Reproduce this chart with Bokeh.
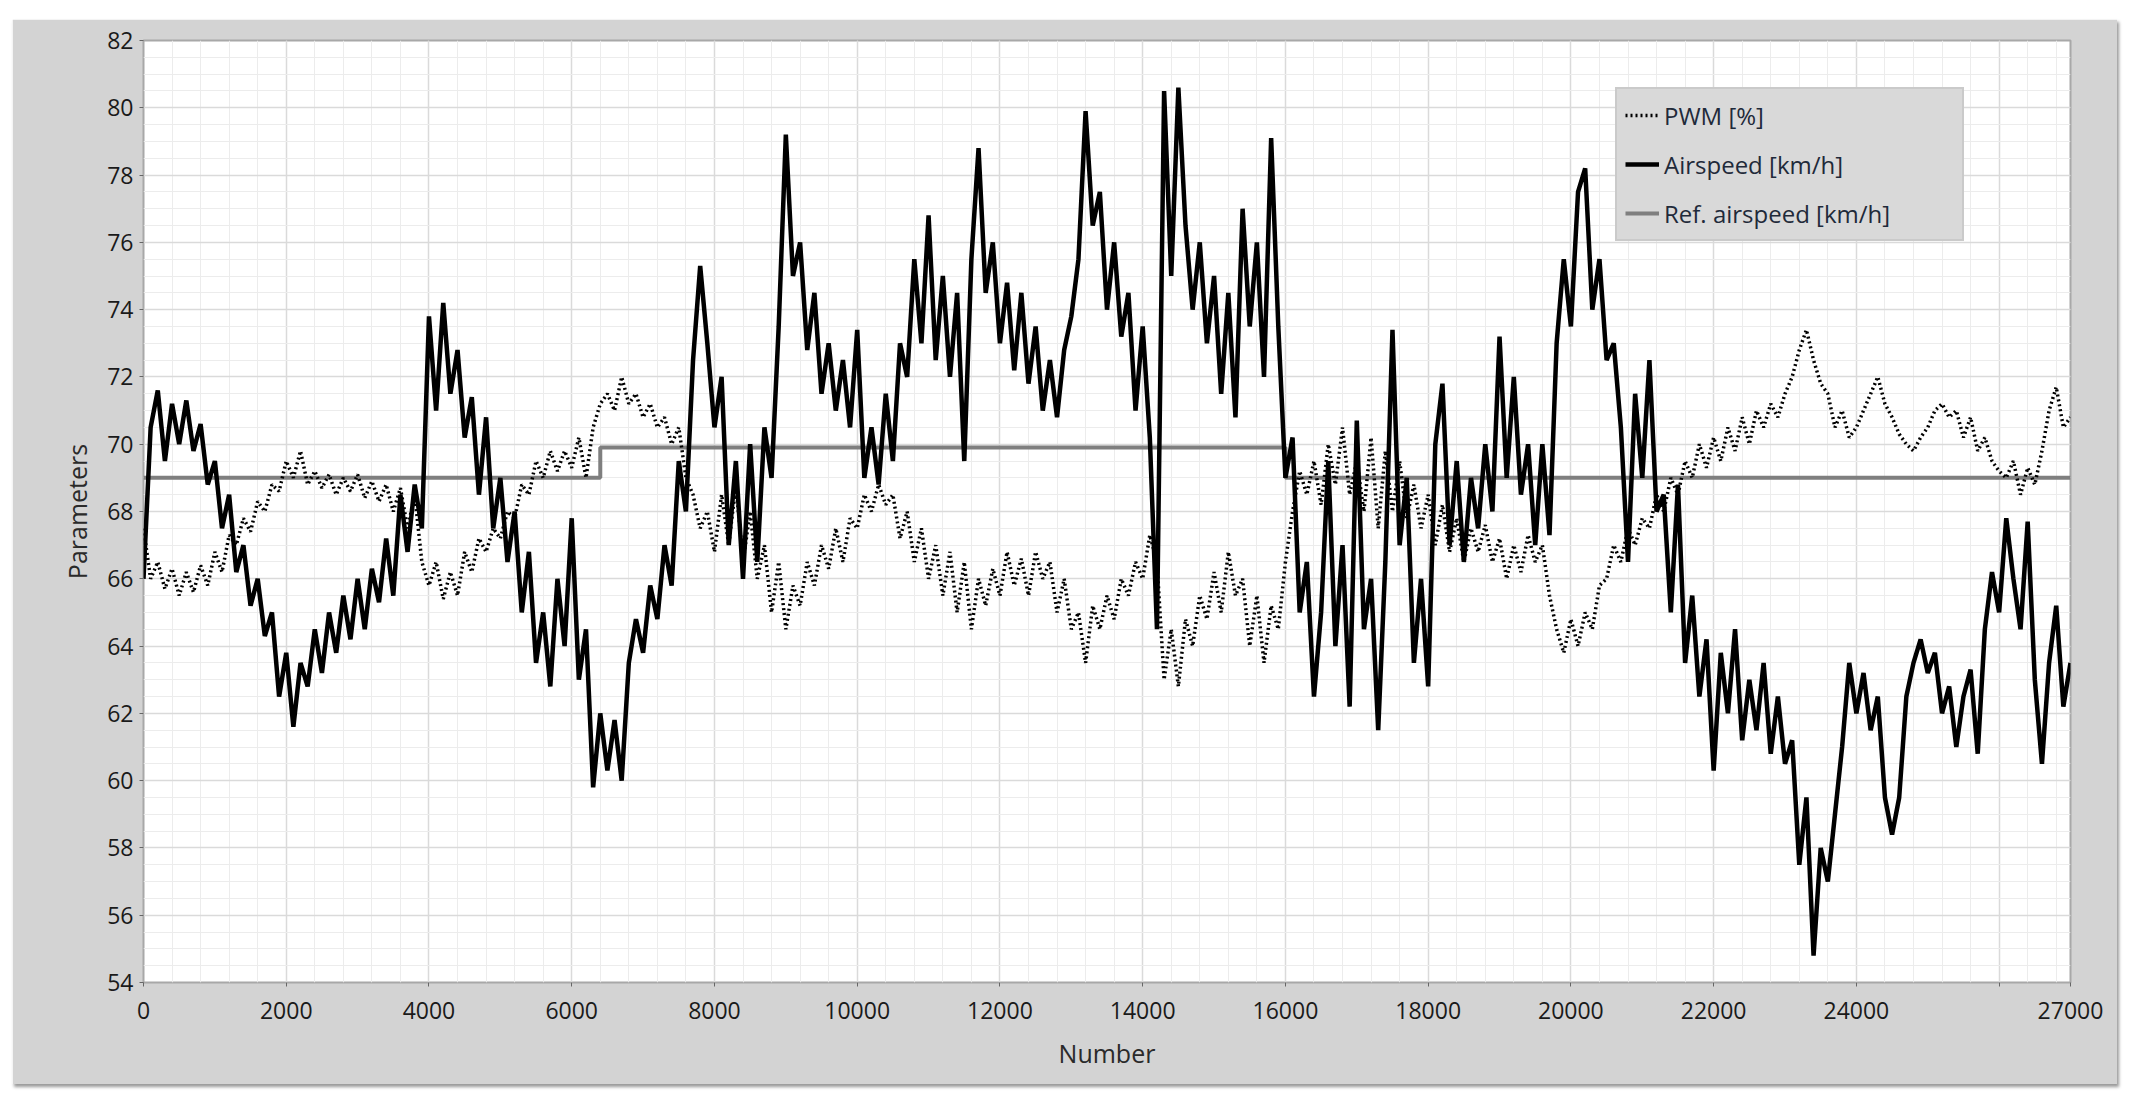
from bokeh.plotting import figure
from bokeh.models import FixedTicker, Legend, LegendItem
from bokeh.embed import file_html
from bokeh.resources import INLINE

# ---------------- data ----------------
sample_number = list(range(0, 27001, 100))

airspeed = [
    66.0, 70.5, 71.6, 69.5, 71.2, 70.0, 71.3, 69.8, 70.6, 68.8,
    69.5, 67.5, 68.5, 66.2, 67.0, 65.2, 66.0, 64.3, 65.0, 62.5,
    63.8, 61.6, 63.5, 62.8, 64.5, 63.2, 65.0, 63.8, 65.5, 64.2,
    66.0, 64.5, 66.3, 65.3, 67.2, 65.5, 68.5, 66.8, 68.8, 67.5,
    73.8, 71.0, 74.2, 71.5, 72.8, 70.2, 71.4, 68.5, 70.8, 67.5,
    69.0, 66.5, 68.0, 65.0, 66.8, 63.5, 65.0, 62.8, 66.0, 64.0,
    67.8, 63.0, 64.5, 59.8, 62.0, 60.3, 61.8, 60.0, 63.5, 64.8,
    63.8, 65.8, 64.8, 67.0, 65.8, 69.5, 68.0, 72.5, 75.3, 73.0,
    70.5, 72.0, 67.0, 69.5, 66.0, 70.0, 66.5, 70.5, 69.0, 73.5,
    79.2, 75.0, 76.0, 72.8, 74.5, 71.5, 73.0, 71.0, 72.5, 70.5,
    73.4, 69.0, 70.5, 68.8, 71.5, 69.5, 73.0, 72.0, 75.5, 73.0,
    76.8, 72.5, 75.0, 72.0, 74.5, 69.5, 75.5, 78.8, 74.5, 76.0,
    73.0, 74.8, 72.2, 74.5, 71.8, 73.5, 71.0, 72.5, 70.8, 72.8,
    73.8, 75.5, 79.9, 76.5, 77.5, 74.0, 76.0, 73.2, 74.5, 71.0,
    73.5, 70.2, 64.5, 80.5, 75.0, 80.6, 76.5, 74.0, 76.0, 73.0,
    75.0, 71.5, 74.5, 70.8, 77.0, 73.5, 76.0, 72.0, 79.1, 73.5,
    69.0, 70.2, 65.0, 66.5, 62.5, 65.0, 69.5, 64.0, 67.0, 62.2,
    70.7, 64.5, 66.0, 61.5, 66.5, 73.4, 67.0, 69.0, 63.5, 66.0,
    62.8, 70.0, 71.8, 67.0, 69.5, 66.5, 69.0, 67.5, 70.0, 68.0,
    73.2, 69.0, 72.0, 68.5, 70.0, 67.0, 70.0, 67.3, 73.0, 75.5,
    73.5, 77.5, 78.2, 74.0, 75.5, 72.5, 73.0, 70.5, 66.5, 71.5,
    69.0, 72.5, 68.0, 68.5, 65.0, 68.8, 63.5, 65.5, 62.5, 64.2,
    60.3, 63.8, 62.0, 64.5, 61.2, 63.0, 61.5, 63.5, 60.8, 62.5,
    60.5, 61.2, 57.5, 59.5, 54.8, 58.0, 57.0, 59.0, 61.0, 63.5,
    62.0, 63.2, 61.5, 62.5, 59.5, 58.4, 59.5, 62.5, 63.5, 64.2,
    63.2, 63.8, 62.0, 62.8, 61.0, 62.5, 63.3, 60.8, 64.5, 66.2,
    65.0, 67.8, 66.0, 64.5, 67.7, 63.0, 60.5, 63.5, 65.2, 62.2,
    63.5,
]

pwm = [
    67.5, 66.0, 66.5, 65.7, 66.3, 65.5, 66.2, 65.6, 66.4, 65.8,
    66.8, 66.2, 67.3, 67.0, 67.8, 67.4, 68.3, 68.0, 68.8, 68.6,
    69.5, 69.0, 69.8, 68.8, 69.2, 68.7, 69.1, 68.5, 69.0, 68.6,
    69.1, 68.4, 68.9, 68.3, 68.8, 68.0, 68.7, 67.5, 68.5, 66.5,
    65.8, 66.5, 65.4, 66.2, 65.5, 66.8, 66.2, 67.2, 66.8, 67.5,
    67.2, 68.0, 67.8, 68.8, 68.5, 69.5, 69.0, 69.8, 69.2, 69.8,
    69.3, 70.2, 69.0, 70.5, 71.2, 71.5, 71.0, 72.0, 71.2, 71.5,
    70.8, 71.2, 70.5, 70.8, 70.0, 70.5, 69.0, 68.5, 67.5, 68.0,
    66.8, 68.5, 67.0, 68.8, 66.5, 68.0, 66.0, 67.0, 65.0, 66.5,
    64.5, 65.8, 65.2, 66.5, 65.8, 67.0, 66.3, 67.5, 66.5, 67.8,
    67.5, 68.5, 68.0, 68.8, 68.2, 68.5, 67.2, 68.0, 66.5, 67.5,
    66.0, 67.0, 65.5, 66.8, 65.0, 66.5, 64.5, 66.0, 65.2, 66.3,
    65.5, 66.8, 65.8, 66.6, 65.5, 66.8, 66.0, 66.5, 65.0, 66.0,
    64.5, 65.0, 63.5, 65.2, 64.5, 65.5, 64.8, 66.0, 65.5, 66.5,
    66.0, 67.3, 66.5, 63.0, 64.5, 62.8, 64.8, 64.0, 65.5, 64.8,
    66.2, 65.0, 66.8, 65.5, 66.0, 64.0, 65.5, 63.5, 65.2, 64.5,
    66.5, 68.0, 69.2, 68.5, 69.5, 68.2, 70.0, 68.8, 70.5, 68.5,
    69.5, 68.0, 70.2, 67.5, 69.8, 68.0, 69.5, 67.8, 68.8, 67.5,
    68.5, 67.0, 68.2, 66.8, 67.8, 66.5, 67.5, 66.8, 67.6, 66.5,
    67.2, 66.0, 67.0, 66.2, 67.3, 66.5, 67.0, 65.5, 64.5, 63.8,
    64.8, 64.0, 65.0, 64.5, 65.8, 66.0, 67.0, 66.5, 67.5, 67.0,
    67.8, 67.5, 68.5, 68.0, 69.0, 68.5, 69.5, 69.0, 70.0, 69.3,
    70.2, 69.5, 70.5, 69.8, 70.8, 70.0, 71.0, 70.5, 71.2, 70.8,
    71.5, 72.0, 72.8, 73.4, 72.5, 71.8, 71.5, 70.5, 71.0, 70.2,
    70.5, 71.0, 71.5, 72.0, 71.2, 70.8, 70.3, 70.0, 69.8, 70.2,
    70.5, 71.0, 71.2, 70.8, 71.0, 70.2, 70.8, 69.8, 70.2, 69.5,
    69.2, 69.0, 69.5, 68.5, 69.3, 68.8, 69.8, 71.0, 71.7, 70.5,
    70.8,
]

ref_sample = [0, 6400, 16000, 27000]
ref_airspeed = [69.0, 69.9, 69.0, 69.0]

series_labels = ["PWM [%]", "Airspeed [km/h]", "Ref. airspeed [km/h]"]

x_major_ticks = [0, 2000, 4000, 6000, 8000, 10000, 12000, 14000,
                 16000, 18000, 20000, 22000, 24000, 26000, 27000]
x_label_overrides = {26000: ""}
y_major_ticks = [54, 56, 58, 60, 62, 64, 66, 68, 70, 72, 74, 76, 78, 80, 82]

# ---------------- figure ----------------
FONT = "Open Sans"

p = figure(
    width=2105, height=1065,
    x_range=(0, 27000), y_range=(54, 82),
    output_backend="svg", toolbar_location=None,
    min_border_left=131, min_border_right=47,
    min_border_top=21, min_border_bottom=102,
    background_fill_color="white",
    border_fill_color="#d3d3d3",
    outline_line_color="#a8a8a8",
    outline_line_width=2,
)
p.margin = (19, 0, 0, 12)
p.styles = {"box-shadow": "2px 3px 3px #9a9a9a"}

x_minor = [400 * i for i in range(68)]
y_minor = [54 + 0.5 * i for i in range(57)]
p.xaxis.ticker = FixedTicker(ticks=x_major_ticks, minor_ticks=x_minor)
p.yaxis.ticker = FixedTicker(ticks=y_major_ticks, minor_ticks=y_minor)
p.xaxis.major_label_overrides = x_label_overrides

for g in (p.xgrid, p.ygrid):
    g.grid_line_color = "#dadada"
    g.grid_line_width = 1.5
    g.minor_grid_line_color = "#ececec"
    g.minor_grid_line_width = 1

for ax in (p.xaxis, p.yaxis):
    ax.axis_line_color = None
    ax.major_tick_in = 0
    ax.major_tick_out = 4
    ax.major_tick_line_color = "#666666"
    ax.minor_tick_line_color = None
    ax.major_label_text_font = FONT
    ax.major_label_text_font_size = "23px"
    ax.major_label_text_color = "#1a1a1a"
    ax.axis_label_text_font = FONT
    ax.axis_label_text_font_size = "25px"
    ax.axis_label_text_font_style = "normal"
    ax.axis_label_text_color = "#2a2a2a"

p.xaxis.axis_label = "Number"
p.yaxis.axis_label = "Parameters"
p.xaxis.major_label_standoff = 15
p.yaxis.major_label_standoff = 6
p.xaxis.axis_label_standoff = 14
p.yaxis.axis_label_standoff = 10

r_ref = p.step(ref_sample, ref_airspeed, mode="after",
               line_color="#7f7f7f", line_width=4)
r_pwm = p.line(sample_number, pwm, line_color="black",
               line_width=3.5, line_dash="2 3")
r_air = p.line(sample_number, airspeed, line_color="black", line_width=4.5)

legend = Legend(
    items=[LegendItem(label=series_labels[0], renderers=[r_pwm]),
           LegendItem(label=series_labels[1], renderers=[r_air]),
           LegendItem(label=series_labels[2], renderers=[r_ref])],
    location=(1472, 741),
    background_fill_color="#d9d9d9", background_fill_alpha=1.0,
    border_line_color="#bcbcbc", border_line_width=2,
    label_text_font=FONT, label_text_font_size="24px",
    label_text_color="#1f2a3a",
    glyph_width=34, glyph_height=36, label_height=36,
    label_width=290, spacing=13, padding=8, margin=0,
)
p.add_layout(legend)

open("out.html", "w").write(file_html(p, INLINE))
